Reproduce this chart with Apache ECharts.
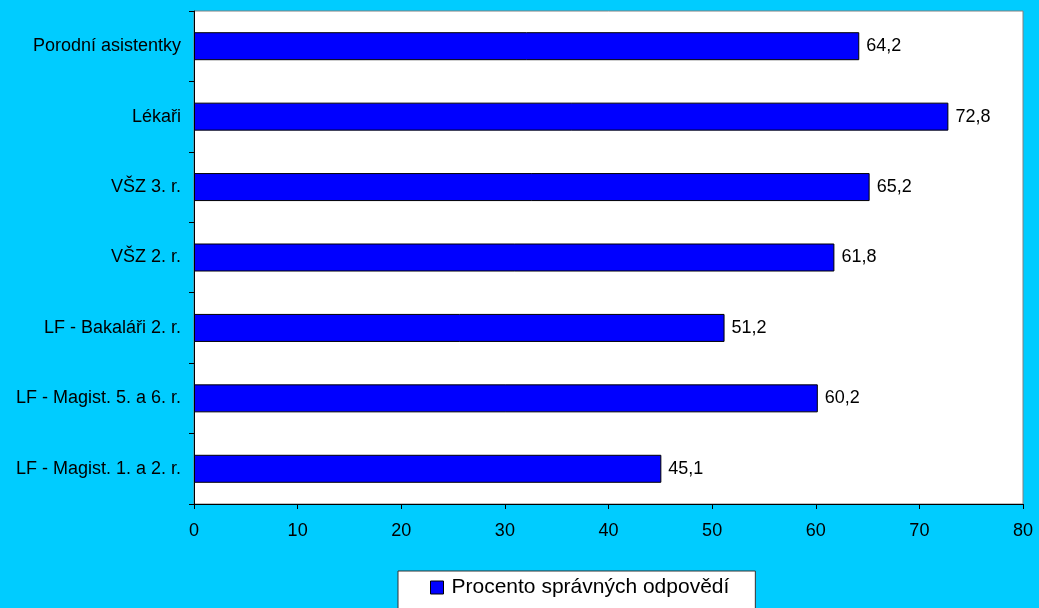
<!DOCTYPE html>
<html>
<head>
<meta charset="utf-8">
<script src="https://cdn.jsdelivr.net/npm/echarts@6/dist/echarts.min.js"></script>
<style>
  html, body { margin: 0; padding: 0; background: #00CCFF; }
  #chart { width: 1039px; height: 608px; }
</style>
</head>
<body>
<div id="chart"></div>
<script>
// Groups, listed bottom to top along the category axis
const categories = [
  'LF - Magist. 1. a 2. r.',
  'LF - Magist. 5. a 6. r.',
  'LF - Bakaláři 2. r.',
  'VŠZ 2. r.',
  'VŠZ 3. r.',
  'Lékaři',
  'Porodní asistentky'
];
// Share of correct answers (%)
const correctShare = [45.1, 60.2, 51.2, 61.8, 65.2, 72.8, 64.2];
const seriesName = 'Procento správných odpovědí';
const xTicks = [0, 10, 20, 30, 40, 50, 60, 70, 80];

const font = '"Liberation Sans", Arial, sans-serif';
const chart = echarts.init(document.getElementById('chart'), null, { renderer: 'canvas' });

chart.setOption({
  backgroundColor: '#00CCFF',
  animation: false,
  grid: {
    left: 194, top: 11, right: 16, bottom: 104,
    show: true,
    backgroundColor: '#FFFFFF',
    borderColor: '#808080',
    borderWidth: 1
  },
  legend: {
    data: [seriesName],
    left: 398,
    top: 571,
    backgroundColor: '#FFFFFF',
    borderColor: '#333333',
    borderWidth: 1,
    borderRadius: 0,
    padding: [6, 26, 20, 32],
    itemWidth: 13,
    itemHeight: 13,
    icon: 'rect',
    textStyle: { fontFamily: font, fontSize: 21, color: '#000000', padding: [0, 0, 0, 3] },
    itemStyle: { borderColor: '#000000', borderWidth: 1 }
  },
  xAxis: {
    type: 'value',
    min: xTicks[0],
    max: xTicks[xTicks.length - 1],
    interval: 10,
    splitLine: { show: false },
    axisLine: { show: true, lineStyle: { color: '#000000', width: 1 } },
    axisTick: { show: true, length: 5, lineStyle: { color: '#000000' } },
    axisLabel: {
      fontFamily: font, fontSize: 18, color: '#000000', margin: 18,
      formatter: v => String(v)
    }
  },
  yAxis: {
    type: 'category',
    data: categories,
    axisLine: { show: true, lineStyle: { color: '#000000', width: 1 } },
    axisTick: { show: true, length: 5, inside: false, lineStyle: { color: '#000000' } },
    axisLabel: { fontFamily: font, fontSize: 18, color: '#000000', margin: 13 }
  },
  series: [{
    name: seriesName,
    type: 'bar',
    data: correctShare,
    barWidth: 28,
    itemStyle: { color: '#0000FF', borderColor: '#000000', borderWidth: 1 },
    label: {
      show: true,
      position: 'right',
      distance: 7,
      fontFamily: font,
      fontSize: 18,
      color: '#000000',
      formatter: p => p.value.toFixed(1).replace('.', ',')
    }
  }]
});
</script>
</body>
</html>
